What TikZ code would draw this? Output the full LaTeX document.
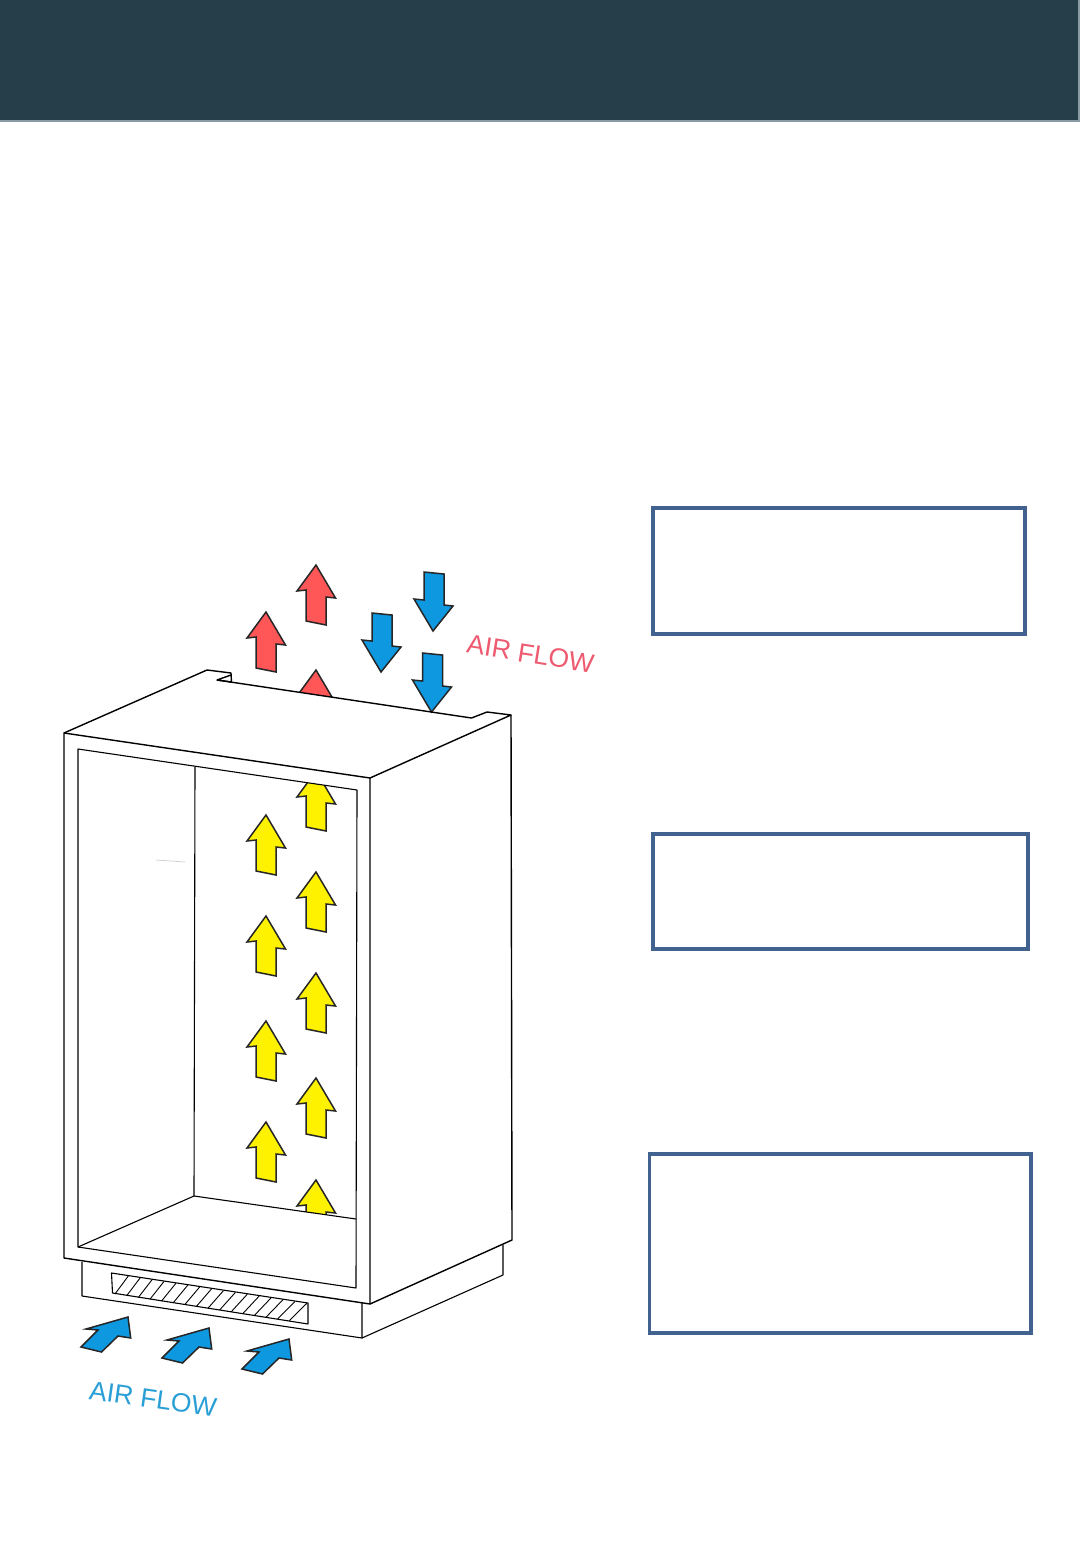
\documentclass[tikz,border=0pt]{standalone}
\usepackage{fontspec}
\setmainfont{Liberation Sans}
\definecolor{headerdark}{HTML}{263E4A}
\definecolor{headeredge}{HTML}{8A9BA5}
\definecolor{boxblue}{HTML}{41618F}
\definecolor{flowred}{HTML}{FF5757}
\definecolor{flowblue}{HTML}{0D98E0}
\definecolor{flowyellow}{HTML}{FFF200}
\definecolor{labelred}{HTML}{EE5A70}
\definecolor{labelblue}{HTML}{2A9FD6}
\tikzset{
  cabinet/.style={line width=1.4pt,black,line join=round},
  cabinetthin/.style={line width=1.1pt,black,line join=round},
  notebox/.style={line width=3.6pt,draw=boxblue},
  flowlabel/.style={font=\fontsize{26.5}{27}\selectfont,inner sep=0pt},
  arrowline/.style={line width=1.5pt,draw=black!85,line join=miter},
  pics/uparrow/.style={code={
    \draw[arrowline,fill=#1] (0,0) -- (-19,26) -- (-10,25) -- (-10,56) -- (10,60) -- (10,32) -- (19.5,33) -- cycle;
  }},
  pics/downarrow/.style={code={
    \draw[arrowline,fill=#1] (0,0) -- (-19,-32) -- (-9,-31) -- (-9,-59) -- (11,-57) -- (11,-26) -- (20,-25) -- cycle;
  }},
  pics/slantarrow/.style={code={
    \draw[arrowline,fill=#1] (0,0) -- (-42,12) -- (-30,13) -- (-47,30) -- (-26.5,35) -- (-10,19) -- (2.7,21) -- cycle;
  }}
}
\begin{document}
\begin{tikzpicture}[x=1pt,y=-1pt]
\useasboundingbox (0,0) rectangle (1080,1560);
\fill[white] (0,0) rectangle (1080,1560);

% Header band
\fill[headerdark] (0,0) rectangle (1079,121);
\draw[line width=2pt,headeredge] (0,121.5) -- (1079,121.5) -- (1079,0);

% Text boxes
\draw[notebox] (653,508) rectangle (1025,634);
\draw[notebox] (653,834) rectangle (1028,949);
\draw[notebox] (649.5,1154) rectangle (1031,1333);

% Arrows above the cabinet
\foreach \px/\py in {316/565,266/612} \pic at (\px,\py) {uparrow=flowred};
\foreach \px/\py in {433/631,381/672,431.5/712} \pic at (\px,\py) {downarrow=flowblue};
\begin{scope}
\clip (217,680) -- (471.5,718) -- (471.5,600) -- (217,600) -- cycle;
\pic at (316,670) {uparrow=flowred};
\end{scope}

% Arrows inside the cabinet
\foreach \px/\py in {266/815,316/872,266/916,316/973,266/1021,316/1078,266/1122} \pic at (\px,\py) {uparrow=flowyellow};
\begin{scope}
\clip (195,767) -- (357,790) -- (357,900) -- (195,900) -- cycle;
\pic at (316,771) {uparrow=flowyellow};
\end{scope}
\begin{scope}
\clip (194,1196) -- (356,1219) -- (356,1100) -- (194,1100) -- cycle;
\pic at (316,1180) {uparrow=flowyellow};
\end{scope}

% Cabinet outline
\draw[cabinet] (64,733) -- (207,670) -- (231,673) -- (231.5,682) -- (217,680) -- (231,675);
\draw[cabinet] (217,680) -- (471.5,718) -- (487,712) -- (511,715) -- (370,778);
\draw[cabinet] (64,733) -- (370,778) -- (370,1304) -- (64,1258) -- cycle;
\draw[cabinet] (511,715) -- (512,1240) -- (370,1304);
% Opening
\draw[cabinetthin] (78,749) -- (357,790) -- (356,1288) -- (78,1247) -- cycle;
\draw[cabinetthin] (195,767) -- (194,1196) -- (356,1219);
\draw[cabinetthin] (194,1196) -- (78,1247);
\draw[gray!40,line width=0.7pt] (156,860) -- (185,862);

% Plinth
\draw[cabinetthin] (82,1262) -- (82,1296) -- (362,1338) -- (362,1303);
\draw[cabinetthin] (362,1338) -- (503,1275) -- (503,1245);

% Grille
\draw[cabinetthin] (111.5,1273) -- (308,1303) -- (308,1324) -- (112.5,1293) -- cycle;
\foreach \i in {0,...,15} {
  \draw[line width=0.9pt] ({115+\i*11.62},{1294+\i*1.78}) -- ({128.3+\i*11.9},{1276+\i*1.82});
}

% Arrows below the plinth
\foreach \px/\py in {128/1317,209/1328,289/1339} \pic at (\px,\py) {slantarrow=flowblue};

% Labels
\node[flowlabel,text=labelred,rotate=-9] (redflow) at (530.5,654) {AIR FLOW};
\node[flowlabel,text=labelblue,rotate=-8] (blueflow) at (153,1399) {AIR FLOW};
\end{tikzpicture}
\end{document}
